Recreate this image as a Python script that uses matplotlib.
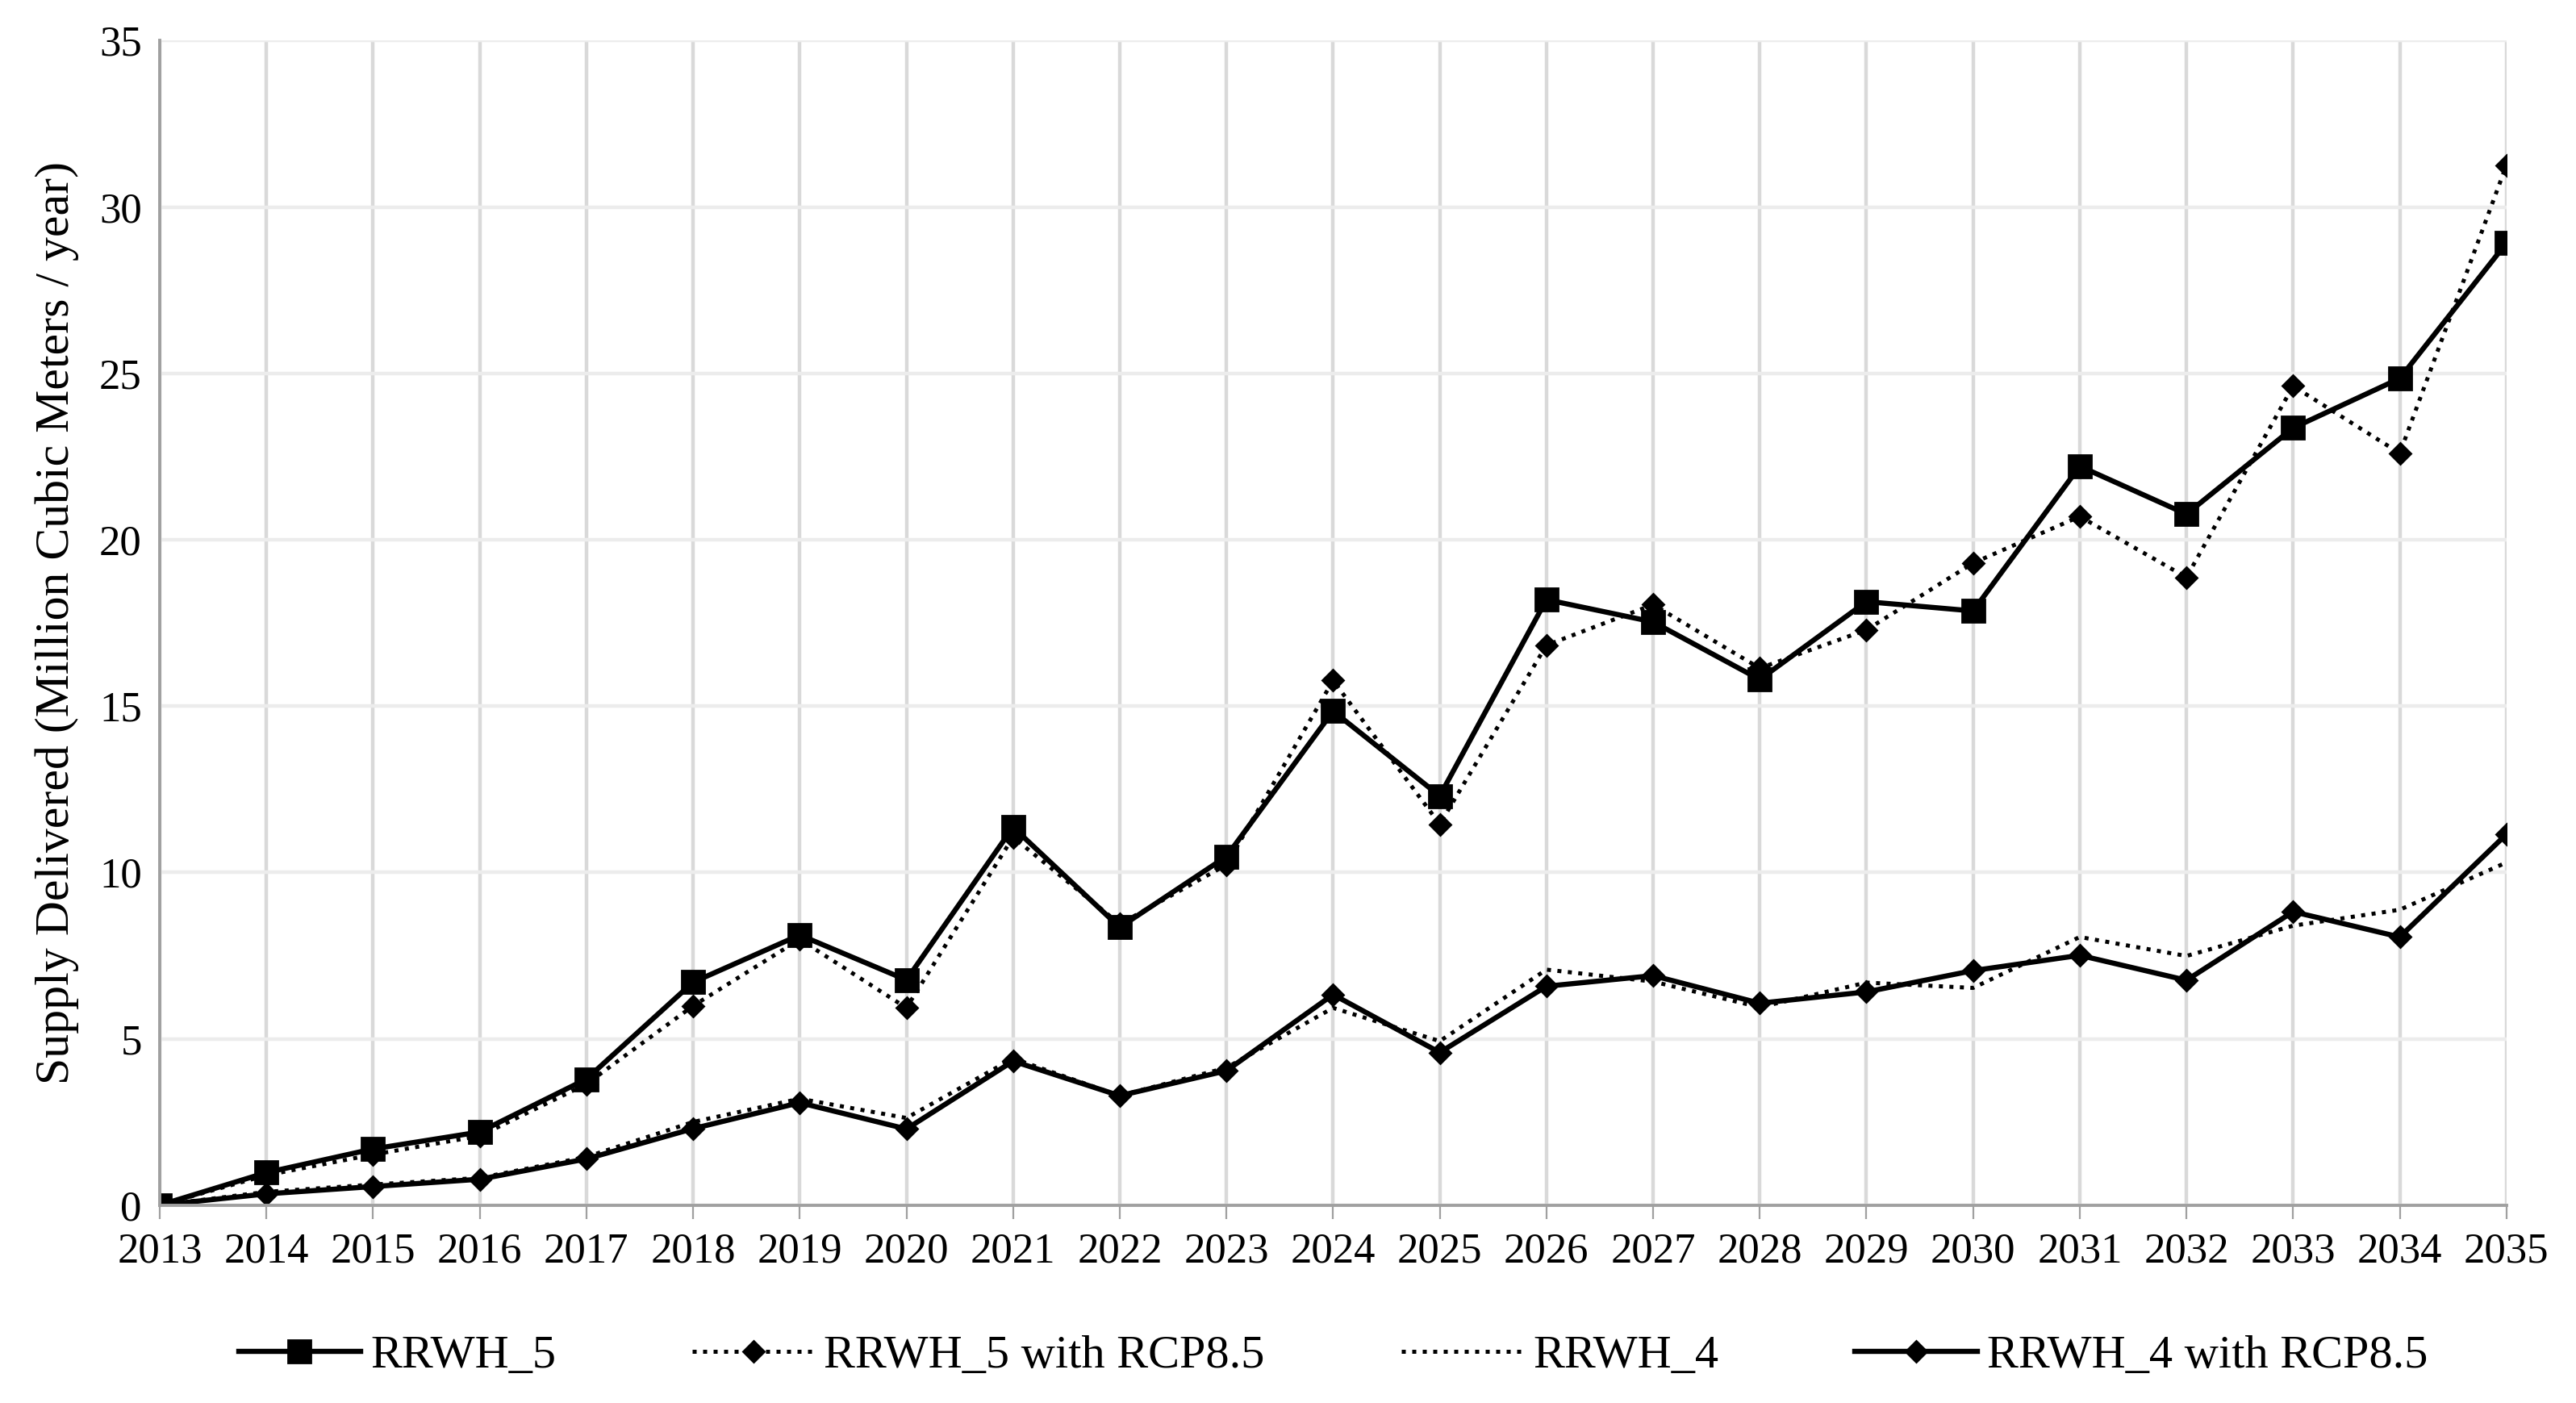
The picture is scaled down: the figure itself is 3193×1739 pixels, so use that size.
import matplotlib.pyplot as plt

plt.rcParams['font.family'] = ['Liberation Serif', 'DejaVu Serif']

# Data
years = list(range(2013, 2036))
rrwh5 = [0, 0.98, 1.69, 2.2, 3.79, 6.7, 8.12, 6.77, 11.36, 8.35, 10.48, 14.85,
         12.3, 18.2, 17.53, 15.8, 18.14, 17.86, 22.21, 20.77, 23.36, 24.85, 28.92]
rrwh5_rcp = [0, 0.9, 1.52, 2.08, 3.64, 5.99, 7.99, 5.93, 11.06, 8.45, 10.23, 15.77,
             11.45, 16.83, 18.05, 16.14, 17.29, 19.3, 20.7, 18.87, 24.62, 22.6, 31.26]
rrwh4 = [0, 0.4, 0.62, 0.82, 1.45, 2.5, 3.2, 2.62, 4.41, 3.29, 4.13, 5.93,
         4.93, 7.08, 6.72, 5.95, 6.69, 6.53, 8.06, 7.49, 8.4, 8.88, 10.3]
rrwh4_rcp = [0, 0.34, 0.56, 0.78, 1.39, 2.3, 3.08, 2.29, 4.33, 3.29, 4.04, 6.33,
             4.59, 6.58, 6.9, 6.07, 6.41, 7.05, 7.51, 6.76, 8.82, 8.06, 11.15]

fig, ax = plt.subplots(figsize=(15.965, 8.695), dpi=200)
fig.subplots_adjust(left=0.062, right=0.973, top=0.971, bottom=0.141)

ax.plot(years, rrwh5, color='black', lw=2.3, marker='s', markersize=10, label='RRWH_5')
ax.plot(years, rrwh5_rcp, color='black', lw=1.8, ls=(0, (1, 1.6)), marker='D', markersize=6.5,
        label='RRWH_5 with RCP8.5')
ax.plot(years, rrwh4, color='black', lw=1.8, ls=(0, (1, 1.6)), label='RRWH_4')
ax.plot(years, rrwh4_rcp, color='black', lw=2.3, marker='D', markersize=6.5,
        label='RRWH_4 with RCP8.5')

ax.set_xlim(2013, 2035)
ax.set_ylim(0, 35)
ax.set_xticks(years)
ax.set_yticks(range(0, 36, 5))
ax.tick_params(axis='x', labelsize=19, length=6, color='#a0a0a0', direction='out', pad=6)
ax.tick_params(axis='y', labelsize=19, length=0, pad=8)
ax.set_ylabel('Supply Delivered (Million Cubic Meters / year)', fontsize=21.5, labelpad=9)

ax.grid(axis='x', color='#d9d9d9', lw=1.6)
ax.grid(axis='y', color='#ececec', lw=1.6)
ax.set_axisbelow(True)
for side in ['top', 'right']:
    ax.spines[side].set_visible(False)
for side in ['left', 'bottom']:
    ax.spines[side].set_color('#a0a0a0')
    ax.spines[side].set_linewidth(1.4)

ax.legend(loc='upper center', bbox_to_anchor=(0.5, -0.075), ncol=4, frameon=False,
          fontsize=21, handlelength=2.6, columnspacing=2.9, handletextpad=0.2)

plt.savefig('out.png', dpi=200)
